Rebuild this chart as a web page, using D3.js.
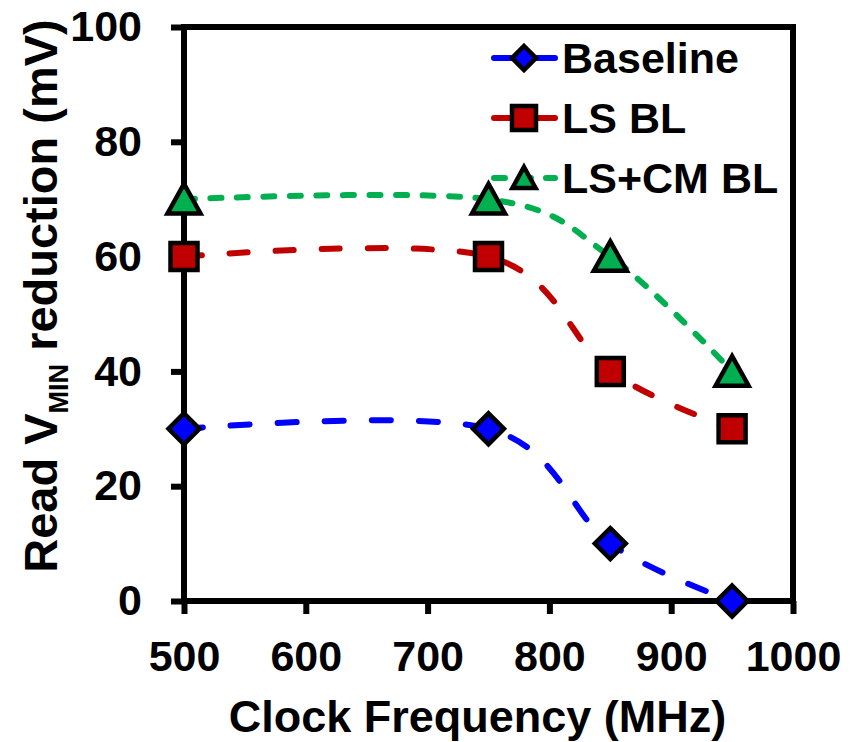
<!DOCTYPE html>
<html>
<head>
<meta charset="utf-8">
<script src="https://cdn.jsdelivr.net/npm/d3@7/dist/d3.min.js"></script>
<style>
  html, body { margin: 0; padding: 0; background: #fff; }
  svg { display: block; }
  text { font-family: "Liberation Sans", Arial, sans-serif; font-weight: bold; fill: #000; }
</style>
</head>
<body>
<svg id="chart" width="853" height="742"></svg>
<script>
// ---- data ----
const frequencies = [500, 750, 850, 950];
const baseline = [30, 30, 10, 0];
const lsBL = [60, 60, 40, 30];
const lsCmBL = [70, 70, 60, 40];
const seriesNames = ["Baseline", "LS BL", "LS+CM BL"];
const xTicks = [500, 600, 700, 800, 900, 1000];
const yTicks = [0, 20, 40, 60, 80, 100];

const series = [
  { name: seriesNames[0], values: baseline, color: "#0000FF", marker: "diamond", dash: "19,28" },
  { name: seriesNames[1], values: lsBL,     color: "#C00000", marker: "square",  dash: "18,28" },
  { name: seriesNames[2], values: lsCmBL,   color: "#00B050", marker: "triangle", dash: "11,15.5" }
];

const svg = d3.select("#chart");
const pLeft = 184, pRight = 793, pTop = 27, pBottom = 601;
const x = d3.scaleLinear().domain([500, 1000]).range([pLeft, pRight]);
const y = d3.scaleLinear().domain([0, 100]).range([pBottom, pTop]);

const AXW = 6;
const TICK = 13;
// Axes (labels via d3 axis; tick marks drawn as filled bars)
const yAxis = d3.axisLeft(y).tickValues(yTicks).tickFormat(d3.format("d")).tickSize(TICK).tickSizeOuter(0).tickPadding(29);
const xAxis = d3.axisBottom(x).tickValues(xTicks).tickFormat(d3.format("d")).tickSize(TICK).tickSizeOuter(0).tickPadding(26.5);

const gy = svg.append("g").attr("transform", `translate(${pLeft},0)`).call(yAxis);
const gx = svg.append("g").attr("transform", `translate(0,${pBottom})`).call(xAxis);
[gx, gy].forEach(g => {
  g.select(".domain").remove();
  g.selectAll(".tick line").remove();
  g.selectAll(".tick text").style("font-size", "43px").style("font-family", "'Liberation Sans', Arial, sans-serif").style("font-weight", "bold").attr("fill", "#000");
});
gy.selectAll(".tick").append("rect")
  .attr("x", -TICK).attr("y", -AXW / 2).attr("width", TICK).attr("height", AXW).attr("fill", "#000");
gx.selectAll(".tick").append("rect")
  .attr("x", -AXW / 2).attr("y", 0).attr("width", AXW).attr("height", TICK).attr("fill", "#000");

// Plot frame as filled bars
const frame = svg.append("g").attr("fill", "#000");
frame.append("rect").attr("x", pLeft - AXW / 2).attr("y", pTop - AXW / 2).attr("width", pRight - pLeft + AXW).attr("height", AXW);
frame.append("rect").attr("x", pLeft - AXW / 2).attr("y", pBottom - AXW / 2).attr("width", pRight - pLeft + AXW).attr("height", AXW);
frame.append("rect").attr("x", pLeft - AXW / 2).attr("y", pTop - AXW / 2).attr("width", AXW).attr("height", pBottom - pTop + AXW);
frame.append("rect").attr("x", pRight - AXW / 2).attr("y", pTop - AXW / 2).attr("width", AXW).attr("height", pBottom - pTop + AXW);

// Marker path generators
function markerPath(type, s) {
  if (type === "diamond") return `M0,${-s}L${s},0L0,${s}L${-s},0Z`;
  if (type === "square") return `M${-s},${-s}H${s}V${s}H${-s}Z`;
  const h = s * 1.9, w = s * 1.1;
  return `M0,${-h/2 - 1}L${w},${h/2}L${-w},${h/2}Z`;
}
const markerSize = { diamond: 15.5, square: 13.5, triangle: 15 };
const legendSize = { diamond: 12, square: 12, triangle: 10.5 };

const line = d3.line()
  .x((d, i) => x(frequencies[i]))
  .y(d => y(d))
  .curve(d3.curveCardinal.tension(0));

const plot = svg.append("g");
series.forEach(s => {
  plot.append("path")
    .attr("d", line(s.values))
    .style("fill", "none")
    .style("stroke", s.color)
    .style("stroke-width", "6px")
    .style("stroke-linecap", "round")
    .style("stroke-dasharray", s.dash);
});
series.forEach(s => {
  plot.selectAll(null).data(s.values).enter().append("path")
    .attr("transform", (d, i) => `translate(${x(frequencies[i])},${y(d)})`)
    .attr("d", markerPath(s.marker, markerSize[s.marker]))
    .style("fill", s.color)
    .style("stroke", "#000")
    .style("stroke-width", "4.5px")
    .style("stroke-linejoin", "miter");
});

// Legend
const legendY = [58, 118, 178];
series.forEach((s, i) => {
  const g = svg.append("g").attr("transform", `translate(0,${legendY[i]})`);
  g.append("line")
    .attr("x1", 494).attr("x2", 555).attr("y1", 0).attr("y2", 0)
    .style("stroke", s.color).style("stroke-width", "6px").style("stroke-linecap", "round")
    .style("stroke-dasharray", i === 2 ? "11,15" : "none");
  g.append("path")
    .attr("transform", "translate(524,0)")
    .attr("d", markerPath(s.marker, legendSize[s.marker]))
    .style("fill", s.color).style("stroke", "#000").style("stroke-width", "4.5px");
  g.append("text")
    .attr("x", 562).attr("y", 15)
    .style("font-size", "43px")
    .text(s.name);
});

// Axis titles
svg.append("text")
  .attr("x", 477.5).attr("y", 732)
  .attr("text-anchor", "middle")
  .style("font-size", "45px")
  .text("Clock Frequency (MHz)");

const yt = svg.append("text")
  .attr("transform", "translate(57,296) rotate(-90)")
  .attr("text-anchor", "middle")
  .style("font-size", "47px");
yt.append("tspan").text("Read V");
yt.append("tspan").attr("dy", 11).style("font-size", "27px").text("MIN");
yt.append("tspan").attr("dy", -11).text(" reduction (mV)");
</script>
</body>
</html>
